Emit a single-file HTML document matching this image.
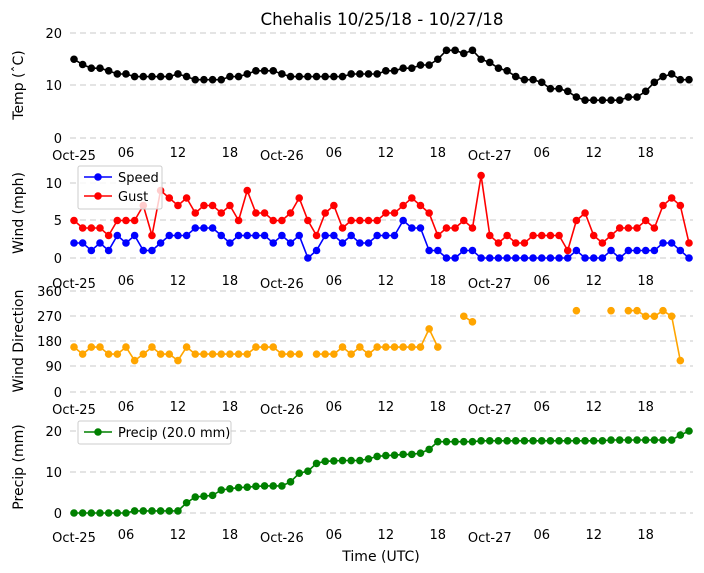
<!DOCTYPE html>
<html><head><meta charset="utf-8"><style>
html,body{margin:0;padding:0;background:#fff}
svg{display:block;font-family:"DejaVu Sans","Liberation Sans",sans-serif}
</style></head><body>
<svg id="s" width="704" height="573" viewBox="0 0 704 573" xmlns="http://www.w3.org/2000/svg">
<rect width="704" height="573" fill="#fff"/>
<g id="grid" stroke="#c8c8c8" stroke-width="1" stroke-dasharray="6,4"></g>
<g id="data"></g>
<text x="382" y="25" font-size="16.7" text-anchor="middle">Chehalis 10/25/18 - 10/27/18</text>
<g font-size="13" text-anchor="end">
<text x="62" y="38">20</text><text x="62" y="90">10</text><text x="62" y="143">0</text>
<text x="62" y="188">10</text><text x="62" y="225">5</text><text x="62" y="263">0</text>
<text x="62" y="296">360</text><text x="62" y="321">270</text><text x="62" y="346">180</text><text x="62" y="371">90</text><text x="62" y="397">0</text>
<text x="62" y="436">20</text><text x="62" y="477">10</text><text x="62" y="518">0</text>
</g>
<g font-size="13" text-anchor="middle" id="xt"></g>
<g font-size="14" text-anchor="middle">
<text transform="translate(23,85) rotate(-90)">Temp (ˆC)</text>
<text transform="translate(23,213) rotate(-90)">Wind (mph)</text>
<text transform="translate(23,341) rotate(-90)">Wind Direction</text>
<text transform="translate(23,467) rotate(-90)">Precip (mm)</text>
<text x="381" y="561">Time (UTC)</text>
</g>
<g>
<rect x="78" y="166" width="84" height="43" fill="#fff" fill-opacity="0.8" stroke="#ccc" rx="2"/>
<line x1="84" y1="177" x2="112" y2="177" stroke="#0000ff" stroke-width="1.5"/><circle cx="98" cy="177" r="3.8" fill="#0000ff"/>
<text x="118" y="182" font-size="13">Speed</text>
<line x1="84" y1="196" x2="112" y2="196" stroke="#ff0000" stroke-width="1.5"/><circle cx="98" cy="196" r="3.8" fill="#ff0000"/>
<text x="118" y="201" font-size="13">Gust</text>
<rect x="78" y="421" width="153" height="23" fill="#fff" fill-opacity="0.8" stroke="#ccc" rx="2"/>
<line x1="84" y1="432" x2="112" y2="432" stroke="#008000" stroke-width="1.5"/><circle cx="98" cy="432" r="3.8" fill="#008000"/>
<text x="118" y="437" font-size="13">Precip (20.0 mm)</text>
</g>
</svg>
<script>
const NS="http://www.w3.org/2000/svg";
const X=i=>74+i*8.662;
function el(p,t,a){const e=document.createElementNS(NS,t);for(const k in a)e.setAttribute(k,a[k]);p.appendChild(e);return e;}
const grid=document.getElementById('grid');
[33,85,138,183,220,258,291,316,341,366,392,431,472,513].forEach(y=>el(grid,'line',{x1:70,x2:693,y1:y,y2:y}));
const xt=document.getElementById('xt');
const labs=['Oct-25','06','12','18','Oct-26','06','12','18','Oct-27','06','12','18'];
[158,286,412,540].forEach(y=>{labs.forEach((l,k)=>{const t=el(xt,'text',{x:X(k*6),y:y+(l.startsWith('Oct')?2:-1)});t.textContent=l;});});
function series(vals,y0,ppu,v0,color){
  const g=document.getElementById('data');let d='',pen=false;
  vals.forEach((v,i)=>{if(v===null){pen=false;return;}const x=X(i),y=y0-(v-v0)*ppu;d+=(pen?'L':'M')+x.toFixed(1)+' '+y.toFixed(1);pen=true;});
  el(g,'path',{d:d,fill:'none',stroke:color,'stroke-width':1.6});
  vals.forEach((v,i)=>{if(v!==null)el(g,'circle',{cx:X(i),cy:y0-(v-v0)*ppu,r:3.8,fill:color});});
}
const temp=[15,14,13.3,13.3,12.8,12.2,12.2,11.7,11.7,11.7,11.7,11.7,12.2,11.7,11.1,11.1,11.1,11.1,11.7,11.7,12.2,12.8,12.8,12.8,12.2,11.7,11.7,11.7,11.7,11.7,11.7,11.7,12.2,12.2,12.2,12.2,12.8,12.8,13.3,13.3,13.9,13.9,15,16.7,16.7,16.1,16.7,15,14.4,13.3,12.8,11.7,11.1,11.1,10.6,9.4,9.4,8.9,7.8,7.2,7.2,7.2,7.2,7.2,7.8,7.8,8.9,10.6,11.7,12.2,11.1,11.1];
const spd=[2,2,1,2,1,3,2,3,1,1,2,3,3,3,4,4,4,3,2,3,3,3,3,2,3,2,3,0,1,3,3,2,3,2,2,3,3,3,5,4,4,1,1,0,0,1,1,0,0,0,0,0,0,0,0,0,0,0,1,0,0,0,1,0,1,1,1,1,2,2,1,0];
const gst=[5,4,4,4,3,5,5,5,7,3,9,8,7,8,6,7,7,6,7,5,9,6,6,5,5,6,8,5,3,6,7,4,5,5,5,5,6,6,7,8,7,6,3,4,4,5,4,11,3,2,3,2,2,3,3,3,3,1,5,6,3,2,3,4,4,4,5,4,7,8,7,2];
const dir=new Array(72).fill(null);
[160,135,160,160,135,135,160,112,135,160,135,135,112,160,135,135,135,135,135,135,135,160,160,160,135,135,135].forEach((v,i)=>dir[i]=v);
[135,135,135,160,135,160,135,160,160,160,160,160,160,225,160].forEach((v,i)=>dir[28+i]=v);
Object.entries({45:270,46:250,58:290,62:290,64:290,65:290,66:270,67:270,68:290,69:270,70:112}).forEach(([k,v])=>dir[+k]=v);
const pr=[0,0,0,0,0,0,0,0.5,0.5,0.5,0.5,0.5,0.5,2.5,3.9,4.1,4.3,5.6,5.9,6.2,6.3,6.5,6.6,6.6,6.6,7.6,9.7,10.2,12.1,12.6,12.7,12.8,12.8,12.8,13.2,13.8,14.0,14.1,14.3,14.3,14.6,15.5,17.4,17.4,17.4,17.4,17.4];
while(pr.length<62)pr.push(17.6);while(pr.length<70)pr.push(17.8);pr.push(19,20);
series(temp,138,5.25,0,'#000');
series(spd,258,7.5,0,'#0000ff');
series(gst,258,7.5,0,'#ff0000');
series(dir,392,101/360,0,'#ffa500');
series(pr,513,4.1,0,'#008000');
</script>
</body></html>
